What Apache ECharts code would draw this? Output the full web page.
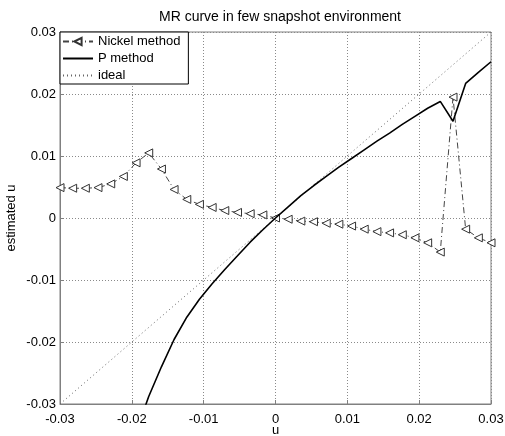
<!DOCTYPE html>
<html>
<head>
<meta charset="utf-8">
<script src="https://cdn.jsdelivr.net/npm/echarts@6/dist/echarts.min.js"></script>
<style>
html,body{margin:0;padding:0;background:#fff;}
#chart{width:505px;height:436px;}
</style>
</head>
<body>
<div id="chart"></div>
<script>
// u 取样点
var u = [-0.03, -0.02824, -0.02647, -0.02471, -0.02294, -0.02118, -0.01941, -0.01765, -0.01588, -0.01412,
    -0.01235, -0.01059, -0.00882, -0.00706, -0.00529, -0.00353, -0.00176, 0, 0.00176, 0.00353,
    0.00529, 0.00706, 0.00882, 0.01059, 0.01235, 0.01412, 0.01588, 0.01765, 0.01941, 0.02118,
    0.02294, 0.02471, 0.02647, 0.02824, 0.03];
// Nickel method
var nickel = [0.0049, 0.0048, 0.0048, 0.0049, 0.0055, 0.0067, 0.0089, 0.0105, 0.0079, 0.0046,
    0.0030, 0.0022, 0.0017, 0.0012, 0.0009, 0.0007, 0.0005, 0.0000, -0.0002, -0.0005,
    -0.0006, -0.00085, -0.0010, -0.0013, -0.0018, -0.0022, -0.0024, -0.0027, -0.0032, -0.0040,
    -0.0055, 0.0195, -0.0018, -0.0032, -0.0040];
// P method (null = 超出坐标范围)
var pMethod = [null, null, null, null, null, null, -0.0345, -0.0288, -0.0240, -0.0196,
    -0.0160, -0.0131, -0.0106, -0.0083, -0.0061, -0.0039, -0.0019, 0.0000, 0.0018, 0.0036,
    0.0052, 0.0067, 0.0082, 0.0096, 0.0110, 0.0124, 0.0137, 0.0151, 0.0164, 0.0177,
    0.0188, 0.0156, 0.0217, 0.0235, 0.0252];
// ideal
var idealU = [-0.03, 0.03];
var idealV = [-0.03, 0.03];

var FONT = '"Liberation Sans", Arial, sans-serif';

function pairs(xs, ys){
    var out = [];
    for(var i=0;i<xs.length;i++){
        out.push([xs[i], ys[i] === null ? '-' : ys[i]]);
    }
    return out;
}
function fmt(v){
    if(Math.abs(v) < 1e-9) return '0';
    return v.toFixed(2);
}

var myChart = echarts.init(document.getElementById('chart'));
myChart.setOption({
    animation: false,
    backgroundColor: '#fff',
    title: {
        text: 'MR curve in few snapshot environment',
        left: 275,
        textAlign: 'center',
        top: 5,
        textStyle: { fontFamily: FONT, fontSize: 14, fontWeight: 'normal', color: '#000' }
    },
    grid: {
        left: 60, right: 14, top: 32, bottom: 32,
        outerBoundsMode: 'none',
        containLabel: false,
        show: true, borderColor: '#808080', borderWidth: 1
    },
    legend: {
        left: 60, top: 32,
        orient: 'vertical',
        backgroundColor: '#fff',
        borderColor: '#000',
        borderWidth: 1,
        borderRadius: 0,
        padding: [3, 8, 2, 2],
        itemGap: 4,
        itemWidth: 30,
        itemHeight: 9,
        textStyle: { fontFamily: FONT, fontSize: 13, color: '#000' },
        data: [
            { name: 'Nickel method' },
            { name: 'P method', itemStyle: { opacity: 0 } },
            { name: 'ideal', itemStyle: { opacity: 0 } }
        ]
    },
    xAxis: {
        type: 'value',
        min: -0.03, max: 0.03, interval: 0.01,
        name: 'u',
        nameLocation: 'middle',
        nameGap: 20,
        nameMoveOverlap: false,
        nameTextStyle: { fontFamily: FONT, fontSize: 13, color: '#000' },
        axisLine: { onZero: false, lineStyle: { color: '#808080' } },
        axisTick: { inside: true, length: 4, lineStyle: { color: '#808080' } },
        axisLabel: { fontFamily: FONT, fontSize: 13, color: '#000', margin: 9, formatter: fmt },
        splitLine: { show: true, lineStyle: { color: '#8a8a8a', width: 1, type: [1, 2] } }
    },
    yAxis: {
        type: 'value',
        min: -0.03, max: 0.03, interval: 0.01,
        name: 'estimated u',
        nameLocation: 'middle',
        nameGap: 42,
        nameMoveOverlap: false,
        nameTextStyle: { fontFamily: FONT, fontSize: 13, color: '#000' },
        axisLine: { onZero: false, lineStyle: { color: '#808080' } },
        axisTick: { inside: true, length: 4, lineStyle: { color: '#808080' } },
        axisLabel: { fontFamily: FONT, fontSize: 13, color: '#000', margin: 4, formatter: fmt },
        splitLine: { show: true, lineStyle: { color: '#8a8a8a', width: 1, type: [1, 2] } }
    },
    series: [
        {
            name: 'Nickel method',
            type: 'line',
            data: pairs(u, nickel),
            symbol: 'triangle',
            symbolSize: 8,
            symbolRotate: 90,
            showAllSymbol: true,
            itemStyle: { color: '#fff', borderColor: '#333', borderWidth: 1 },
            lineStyle: { color: '#444', width: 1, type: [6, 3, 1, 3] },
            z: 3
        },
        {
            name: 'P method',
            type: 'line',
            data: pairs(u, pMethod),
            symbol: 'none',
            clip: true,
            itemStyle: { color: '#000' },
            lineStyle: { color: '#000', width: 1.6 },
            z: 4
        },
        {
            name: 'ideal',
            type: 'line',
            data: pairs(idealU, idealV),
            symbol: 'none',
            itemStyle: { color: '#666' },
            lineStyle: { color: '#666', width: 1, type: [1, 3] },
            z: 2
        }
    ]
});
</script>
</body>
</html>
